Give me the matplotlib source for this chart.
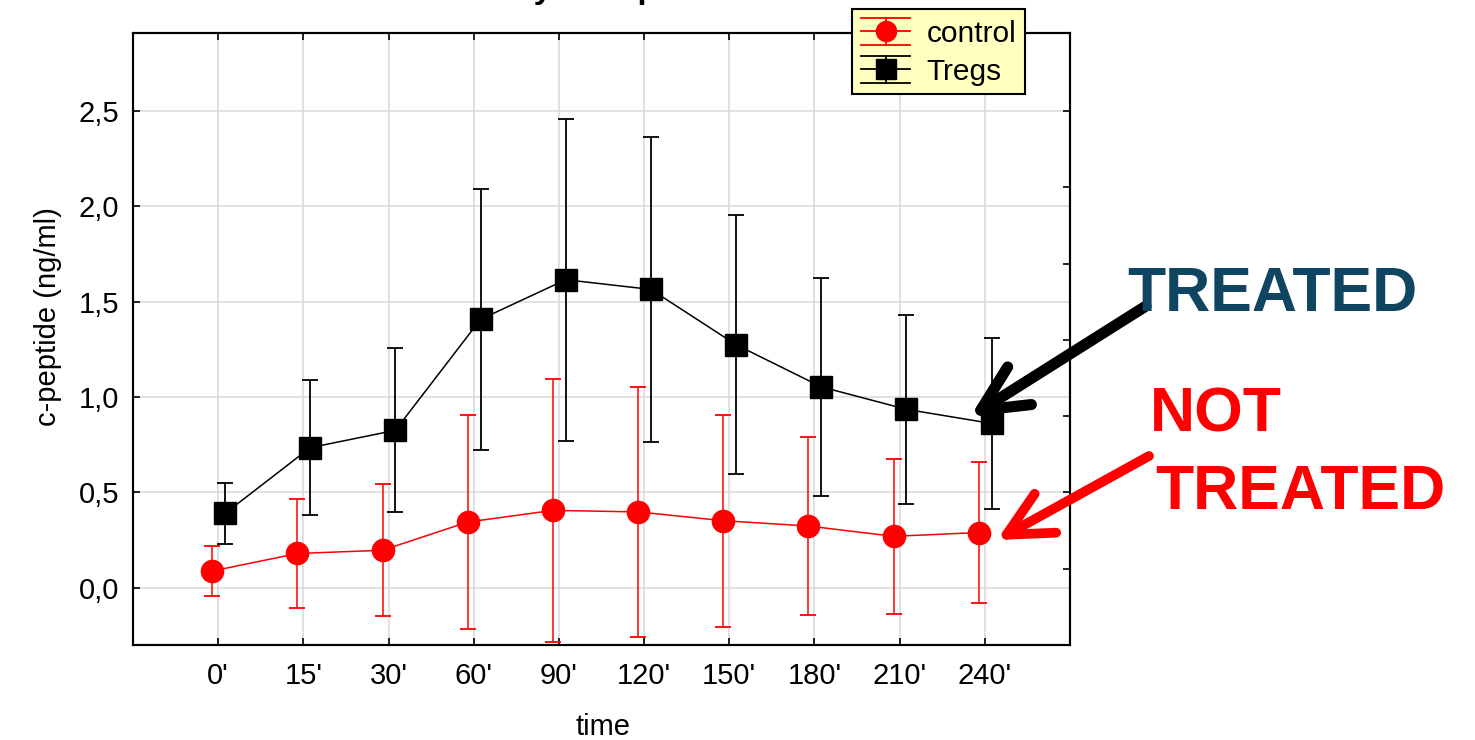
import matplotlib
matplotlib.use("Agg")
import matplotlib.pyplot as plt
import numpy as np
from matplotlib.lines import Line2D
from matplotlib.legend_handler import HandlerBase

plt.rcParams['font.family'] = ['Liberation Sans', 'DejaVu Sans']

# ---- data ----
time_labels = ["0'", "15'", "30'", "60'", "90'", "120'", "150'", "180'", "210'", "240'"]
tregs_mean = [0.39, 0.735, 0.826, 1.408, 1.616, 1.565, 1.275, 1.054, 0.936, 0.862]
tregs_err = [0.16, 0.355, 0.43, 0.686, 0.845, 0.80, 0.68, 0.57, 0.495, 0.45]
control_mean = [0.088, 0.18, 0.197, 0.345, 0.406, 0.398, 0.352, 0.324, 0.27, 0.29]
control_err = [0.13, 0.285, 0.345, 0.56, 0.69, 0.655, 0.555, 0.465, 0.405, 0.37]
ytick_values = [0.0, 0.5, 1.0, 1.5, 2.0, 2.5]
ytick_labels = ["0,0", "0,5", "1,0", "1,5", "2,0", "2,5"]
right_tick_values = [0.1, 0.5, 0.9, 1.3, 1.7, 2.1, 2.5]
series_labels = ["control", "Tregs"]

W, H = 1475, 740
fig = plt.figure(figsize=(W / 100, H / 100), dpi=100)
ax = fig.add_axes([133 / W, 1 - 645 / H, (1070 - 133) / W, (645 - 33) / H])

x = np.arange(1, len(time_labels) + 1)
grid_c = '#d9d9d9'
for xv in x:
    ax.axvline(xv, color=grid_c, lw=1.1, zorder=0)
for yv in ytick_values:
    ax.axhline(yv, color=grid_c, lw=1.1, zorder=0)

ax.errorbar(x - 0.07, control_mean, yerr=control_err, color='#ff0000', lw=1.1,
            marker='o', markersize=16, elinewidth=1.1, capsize=5.5, capthick=1.3, zorder=3)
ax.errorbar(x + 0.08, tregs_mean, yerr=tregs_err, color='black', lw=1.1,
            marker='s', markersize=16, elinewidth=1.3, capsize=5.5, capthick=1.3, zorder=4)

ax.set_xlim(0, 11)
ax.set_ylim(-0.30, 2.91)
ax.set_xticks(x)
ax.set_xticklabels(time_labels)
ax.set_yticks(ytick_values)
ax.set_yticklabels(ytick_labels)
ax.tick_params(axis='both', direction='in', length=5, width=1.2, labelsize=21, colors='black')
ax.tick_params(axis='y', pad=10)
ax.tick_params(axis='x', pad=12, top=True)
for s in ax.spines.values():
    s.set_linewidth(1.5)

ax2 = ax.twinx()
ax2.set_ylim(ax.get_ylim())
ax2.set_yticks(right_tick_values)
ax2.set_yticklabels([])
ax2.tick_params(axis='y', direction='in', length=5, width=1.2)
for s in ax2.spines.values():
    s.set_linewidth(1.5)

fig.text(603 / W, 1 - 727 / H, "time", fontsize=21, ha='center', va='center')
fig.text(48 / W, 1 - 317 / H, "c-peptide (ng/ml)", fontsize=21, ha='center', va='center', rotation=90)

# title, cut off at the top edge as in the reference
fig.text(71 / W, 1 + 2 / H, "Insulin secretion measured by C-Peptide", fontsize=24,
         fontweight='bold', ha='left', va='baseline')

# ---- legend ----
class StatHandle:
    def __init__(self, color, marker):
        self.color = color
        self.marker = marker

class StatHandler(HandlerBase):
    def create_artists(self, legend, orig_handle, xdescent, ydescent, width, height, fontsize, trans):
        c = orig_handle.color
        x0, x1 = -xdescent, -xdescent + width
        xc = (x0 + x1) / 2
        yc = -ydescent + height / 2
        h = height * 0.5
        arts = [Line2D([x0, x1], [yy, yy], color=c, lw=1.3) for yy in (yc - h, yc, yc + h)]
        arts.append(Line2D([xc, xc], [yc - h, yc + h], color=c, lw=1.3))
        arts.append(Line2D([xc], [yc], marker=orig_handle.marker, markersize=14.5, color=c, linestyle='none'))
        for a in arts:
            a.set_transform(trans)
        return arts

handles = [StatHandle('#ff0000', 'o'), StatHandle('black', 's')]
leg = ax2.legend(handles, series_labels, handler_map={StatHandle: StatHandler()},
                 loc='upper left', bbox_to_anchor=(852 / W, 1 - 9 / H), bbox_transform=fig.transFigure,
                 borderaxespad=0, fontsize=21.5, frameon=True, fancybox=False, framealpha=1,
                 facecolor='#ffffc0', edgecolor='black', borderpad=0.3, handlelength=1.65,
                 handleheight=1.0, handletextpad=0.55, labelspacing=0.28)
leg.get_frame().set_linewidth(1.5)
leg.set_zorder(10)

# ---- annotations ----
fig.text(1127 / W, 1 - 311 / H, "TREATED", fontsize=45, fontweight='bold', color='#0f4560',
         ha='left', va='baseline')
fig.text(1150 / W, 1 - 431 / H, "NOT", fontsize=45, fontweight='bold', color='#ff0000',
         ha='left', va='baseline')
fig.text(1155 / W, 1 - 509 / H, "TREATED", fontsize=45, fontweight='bold', color='#ff0000',
         ha='left', va='baseline')

ax2.annotate("", xy=(970, H - 417), xycoords='figure pixels', xytext=(1146, H - 306),
             textcoords='figure pixels',
             arrowprops=dict(arrowstyle='->,head_length=3.3,head_width=1.6', lw=8, color='black',
                             mutation_scale=10, shrinkA=0, shrinkB=0, capstyle='round',
                             joinstyle='round'), annotation_clip=False)
ax2.annotate("", xy=(997, H - 540), xycoords='figure pixels', xytext=(1149, H - 456),
             textcoords='figure pixels',
             arrowprops=dict(arrowstyle='->,head_length=3.2,head_width=1.6', lw=7, color='#ff0000',
                             mutation_scale=10, shrinkA=0, shrinkB=0, capstyle='round',
                             joinstyle='round'), annotation_clip=False)

fig.savefig("out.png", dpi=100)
